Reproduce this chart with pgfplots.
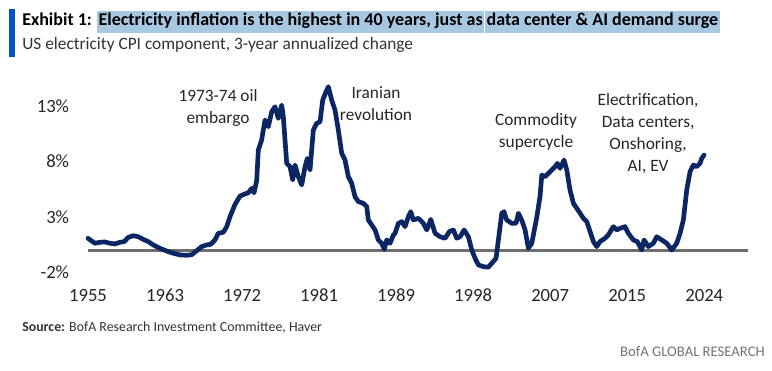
\documentclass[border=0pt]{standalone}
\usepackage{pgfplots}
\pgfplotsset{compat=1.18}
\usepackage{fontspec}
\setmainfont{Carlito}
\definecolor{navy}{RGB}{12,38,100}
\definecolor{hl}{RGB}{168,200,226}
\definecolor{barblue}{RGB}{0,83,196}
\definecolor{zgray}{RGB}{110,110,110}
\definecolor{subgray}{RGB}{50,50,50}
\begin{document}
\begin{tikzpicture}[x=0.75pt,y=0.75pt]
\useasboundingbox (0,0) rectangle (772,371);
% title block
\fill[barblue] (9,371-9) rectangle (15,371-57);
\node[anchor=west, inner sep=0pt, font=\fontsize{13.5pt}{15pt}\selectfont\bfseries] at (22,371-22)
 {Exhibit 1: {\setlength{\fboxsep}{1pt}\colorbox{hl}{\strut Electricity inflation is the highest in 40 years, just as}\hspace{1pt}\colorbox{hl}{\strut data center \& AI demand surge}}};
\node[anchor=west, inner sep=0pt, font=\fontsize{13pt}{15pt}\selectfont, text=subgray] at (22,371-45)
 {US electricity CPI component, 3-year annualized change};
\begin{axis}[
 at={(66pt,69.5625pt)}, anchor=south west,
 scale only axis, width=495pt, height=145.6875pt,
 xmin=1955, xmax=2028.9, ymin=-2.5, ymax=15,
 axis line style={draw=none},
 major tick length=0pt,
 clip=false,
 /pgf/number format/assume math mode=true,
 xtick={1955,1963.625,1972.25,1980.875,1989.5,1998.125,2006.75,2015.375,2024},
 xticklabels={1955,1963,1972,1981,1989,1998,2007,2015,2024},
 ytick={-2,3,8,13},
 yticklabels={-2\%,3\%,8\%,13\%},
 tick label style={font=\fontsize{14pt}{16pt}\selectfont, text=black!85},
 xticklabel style={anchor=north, inner sep=0pt, yshift=-8pt},
 yticklabel style={anchor=east, inner sep=0pt, xshift=-14pt},
]
\addplot[zgray, line width=2.2pt] coordinates {(1955,0) (2028.9,0)};
\addplot[navy, line width=3.5pt, line join=round, line cap=round] coordinates {
(1955.0,1.1) (1955.41,0.86) (1955.78,0.65) (1956.34,0.74) (1956.90,0.77) (1957.46,0.65)
(1958.02,0.59) (1958.58,0.74) (1959.06,0.8) (1959.51,1.19) (1960.07,1.33) (1960.63,1.24)
(1961.19,1.0) (1961.75,0.8) (1962.31,0.5) (1963.06,0.2) (1963.81,-0.05) (1964.55,-0.25)
(1965.30,-0.4) (1966.05,-0.43) (1966.61,-0.38) (1967.17,-0.02) (1967.73,0.35) (1968.29,0.5)
(1968.74,0.56) (1969.22,0.95) (1969.59,1.55) (1970.15,1.64) (1970.53,2.14) (1970.90,3.05)
(1971.46,4.15) (1972.02,4.9) (1972.58,5.1) (1972.95,5.2) (1973.33,5.6) (1973.59,5.2)
(1973.89,6.3) (1974.07,9.05) (1974.44,9.95) (1974.82,11.75) (1975.19,11.15) (1975.57,12.5)
(1975.94,12.95) (1976.31,11.9) (1976.69,13.1) (1976.87,12.05) (1977.25,7.85) (1977.62,7.55)
(1977.92,6.35) (1978.18,7.7) (1978.55,6.65) (1978.93,5.9) (1979.30,7.55) (1979.56,8.3)
(1979.86,7.25) (1980.23,10.85) (1980.60,11.45) (1980.98,11.6) (1981.28,13.55) (1981.73,14.45)
(1981.91,14.75) (1982.29,13.55) (1982.66,12.65) (1983.03,10.85) (1983.41,8.75) (1983.78,8.15)
(1984.15,6.65) (1984.53,6.05) (1984.90,4.85) (1985.27,4.4) (1985.83,4.25) (1986.21,3.95)
(1986.39,2.75) (1986.77,2.3) (1987.14,1.85) (1987.51,0.95) (1987.89,0.65) (1988.18,0.1)
(1988.45,0.95) (1988.82,0.65) (1989.19,1.4) (1989.38,1.55) (1989.75,2.45) (1990.13,2.6)
(1990.50,2.15) (1990.87,3.05) (1991.14,3.5) (1991.43,2.75) (1991.99,2.9) (1992.55,2.45)
(1992.93,1.85) (1993.38,2.8) (1993.86,1.55) (1994.42,1.24) (1994.98,1.1) (1995.46,1.7)
(1995.91,1.85) (1996.29,1.1) (1996.66,1.24) (1997.11,1.85) (1997.59,1.24) (1997.97,0.05)
(1998.34,-0.7) (1998.71,-1.3) (1999.27,-1.45) (1999.83,-1.5) (2000.21,-1.15) (2000.69,-0.7)
(2000.95,0.95) (2001.33,3.35) (2001.58,3.5) (2001.88,2.75) (2002.44,2.45) (2002.93,2.45)
(2003.19,3.35) (2003.56,2.75) (2003.94,1.85) (2004.31,0.2) (2004.69,0.65) (2005.25,3.0)
(2005.62,4.9) (2005.81,6.8) (2006.18,6.65) (2006.74,7.1) (2007.30,7.55) (2007.55,7.85)
(2007.86,7.4) (2008.30,8.15) (2008.61,7.25) (2008.97,5.45) (2009.35,4.25) (2009.73,3.8)
(2010.10,3.35) (2010.47,2.9) (2010.85,2.6) (2011.22,1.7) (2011.59,0.8) (2011.96,0.35)
(2012.33,0.8) (2012.89,1.1) (2013.26,1.4) (2013.82,2.15) (2014.20,1.85) (2014.57,2.0)
(2015.13,2.15) (2015.50,1.55) (2016.06,0.95) (2016.51,0.8) (2017.00,0.05) (2017.26,0.95)
(2017.74,0.35) (2018.30,0.65) (2018.68,1.24) (2019.24,0.95) (2019.80,0.65) (2020.36,0.05)
(2020.92,0.65) (2021.29,1.55) (2021.66,2.75) (2022.04,5.45) (2022.41,7.1) (2022.78,7.7)
(2023.16,7.55) (2023.53,7.85) (2023.72,8.3) (2023.98,8.6)
};
\node[align=center, font=\fontsize{13pt}{16.5pt}\selectfont, text=black!85, inner sep=0pt] at (axis cs:1969.56,12.84) {1973-74 oil\\embargo};
\node[align=center, font=\fontsize{13pt}{16.5pt}\selectfont, text=black!85, inner sep=0pt] at (axis cs:1987.25,13.2) {Iranian\\revolution};
\node[align=center, font=\fontsize{13pt}{16.5pt}\selectfont, text=black!85, inner sep=0pt] at (axis cs:2005.17,10.68) {Commodity\\supercycle};
\node[align=center, font=\fontsize{13pt}{16.5pt}\selectfont, text=black!85, inner sep=0pt] at (axis cs:2017.71,10.54) {Electrification,\\Data centers,\\Onshoring,\\AI, EV};
\end{axis}
\node[anchor=west, inner sep=0pt, font=\fontsize{10.4pt}{12pt}\selectfont, text=subgray] at (22,371-328)
 {\textbf{Source:} BofA Research Investment Committee, Haver};
\node[anchor=east, inner sep=0pt, font=\fontsize{11pt}{12pt}\selectfont, text=black!55] at (765,371-352)
 {BofA GLOBAL RESEARCH};
\end{tikzpicture}
\end{document}
